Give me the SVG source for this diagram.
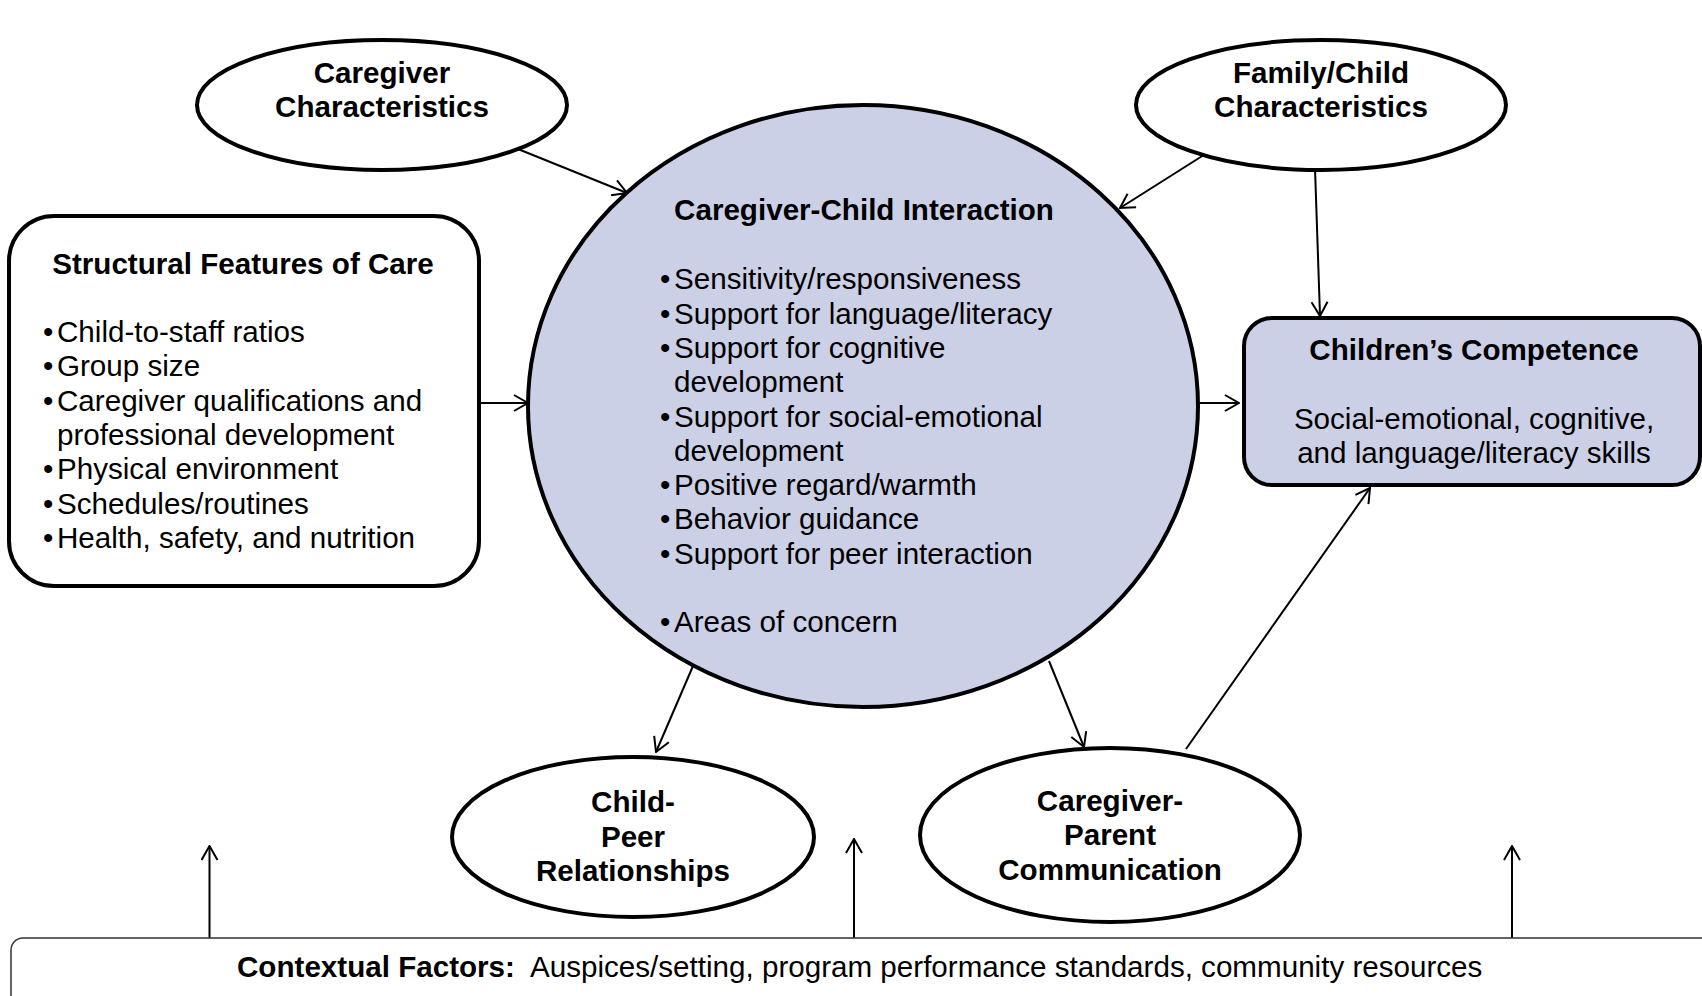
<svg xmlns="http://www.w3.org/2000/svg" width="1702" height="996" viewBox="0 0 1702 996">
<defs>
<style>
.t{font-family:"Liberation Sans",Arial,sans-serif;font-size:29.6px;fill:#000}
.b{font-weight:bold}
.m{text-anchor:middle}
.node{stroke:#000;stroke-width:4;fill:#fff}
.fill{fill:#ccd0e6}
.c{stroke:#000;stroke-width:2;fill:none}
</style>
<marker id="ah" markerUnits="userSpaceOnUse" markerWidth="16" markerHeight="18" viewBox="0 0 16 18" refX="15" refY="9" orient="auto">
<path d="M1,1 L15,9 L1,17" fill="none" stroke="#000" stroke-width="2"/>
</marker>
</defs>
<rect width="1702" height="996" fill="#fff"/>

<g id="connectors">
<line class="c" x1="513" y1="147" x2="627" y2="193" marker-end="url(#ah)"/>
<line class="c" x1="1207" y1="153" x2="1120" y2="208" marker-end="url(#ah)"/>
<line class="c" x1="1315" y1="168" x2="1320" y2="316" marker-end="url(#ah)"/>
<line class="c" x1="479" y1="403" x2="528" y2="403" marker-end="url(#ah)"/>
<line class="c" x1="1198" y1="403" x2="1239" y2="403" marker-end="url(#ah)"/>
<line class="c" x1="693" y1="666" x2="656" y2="752" marker-end="url(#ah)"/>
<line class="c" x1="1049" y1="661" x2="1084" y2="747" marker-end="url(#ah)"/>
<line class="c" x1="1186" y1="749" x2="1370" y2="488" marker-end="url(#ah)"/>
<line class="c" x1="209.5" y1="938" x2="209.5" y2="846" marker-end="url(#ah)"/>
<line class="c" x1="854" y1="938" x2="854" y2="839" marker-end="url(#ah)"/>
<line class="c" x1="1512" y1="938" x2="1512" y2="846" marker-end="url(#ah)"/>
</g>

<g id="caregiver-characteristics">
<ellipse class="node" cx="382" cy="105" rx="185" ry="65"/>
<text class="t b m" x="382" y="83">Caregiver</text>
<text class="t b m" x="382" y="117">Characteristics</text>
</g>

<g id="family-child-characteristics">
<ellipse class="node" cx="1321" cy="105" rx="185" ry="65"/>
<text class="t b m" x="1321" y="83">Family/Child</text>
<text class="t b m" x="1321" y="117">Characteristics</text>
</g>

<g id="structural-features">
<rect class="node" x="9" y="216" width="470" height="370" rx="45" ry="45"/>
<text class="t b m" x="243" y="274">Structural Features of Care</text>
<text class="t" y="342"><tspan x="43">•</tspan><tspan x="57">Child-to-staff ratios</tspan></text>
<text class="t" y="376"><tspan x="43">•</tspan><tspan x="57">Group size</tspan></text>
<text class="t" y="411"><tspan x="43">•</tspan><tspan x="57">Caregiver qualifications and</tspan></text>
<text class="t" x="57" y="445">professional development</text>
<text class="t" y="479"><tspan x="43">•</tspan><tspan x="57">Physical environment</tspan></text>
<text class="t" y="514"><tspan x="43">•</tspan><tspan x="57">Schedules/routines</tspan></text>
<text class="t" y="548"><tspan x="43">•</tspan><tspan x="57">Health, safety, and nutrition</tspan></text>
</g>

<g id="caregiver-child-interaction">
<ellipse class="node fill" cx="863" cy="406" rx="335" ry="301"/>
<text class="t b m" x="864" y="220">Caregiver-Child Interaction</text>
<text class="t" y="289"><tspan x="660">•</tspan><tspan x="674">Sensitivity/responsiveness</tspan></text>
<text class="t" y="324"><tspan x="660">•</tspan><tspan x="674">Support for language/literacy</tspan></text>
<text class="t" y="358"><tspan x="660">•</tspan><tspan x="674">Support for cognitive</tspan></text>
<text class="t" x="674" y="392">development</text>
<text class="t" y="427"><tspan x="660">•</tspan><tspan x="674">Support for social-emotional</tspan></text>
<text class="t" x="674" y="461">development</text>
<text class="t" y="495"><tspan x="660">•</tspan><tspan x="674">Positive regard/warmth</tspan></text>
<text class="t" y="529"><tspan x="660">•</tspan><tspan x="674">Behavior guidance</tspan></text>
<text class="t" y="564"><tspan x="660">•</tspan><tspan x="674">Support for peer interaction</tspan></text>
<text class="t" y="632"><tspan x="660">•</tspan><tspan x="674">Areas of concern</tspan></text>
</g>

<g id="childrens-competence">
<rect class="node fill" x="1244" y="318" width="456" height="167" rx="28" ry="28"/>
<text class="t b m" x="1474" y="360">Children’s Competence</text>
<text class="t m" x="1474" y="429">Social-emotional, cognitive,</text>
<text class="t m" x="1474" y="463">and language/literacy skills</text>
</g>

<g id="child-peer-relationships">
<ellipse class="node" cx="633" cy="837" rx="181" ry="80"/>
<text class="t b m" x="633" y="812">Child-</text>
<text class="t b m" x="633" y="847">Peer</text>
<text class="t b m" x="633" y="881">Relationships</text>
</g>

<g id="caregiver-parent-communication">
<ellipse class="node" cx="1110" cy="835" rx="190" ry="87"/>
<text class="t b m" x="1110" y="811">Caregiver-</text>
<text class="t b m" x="1110" y="845">Parent</text>
<text class="t b m" x="1110" y="880">Communication</text>
</g>

<g id="contextual-factors">
<rect x="11" y="938" width="1720" height="100" rx="12" ry="12" fill="#fff" stroke="#333" stroke-width="1.5"/>
<text class="t" y="977"><tspan x="237" class="b">Contextual Factors:</tspan><tspan x="530">Auspices/setting, program performance standards, community resources</tspan></text>
</g>
</svg>
